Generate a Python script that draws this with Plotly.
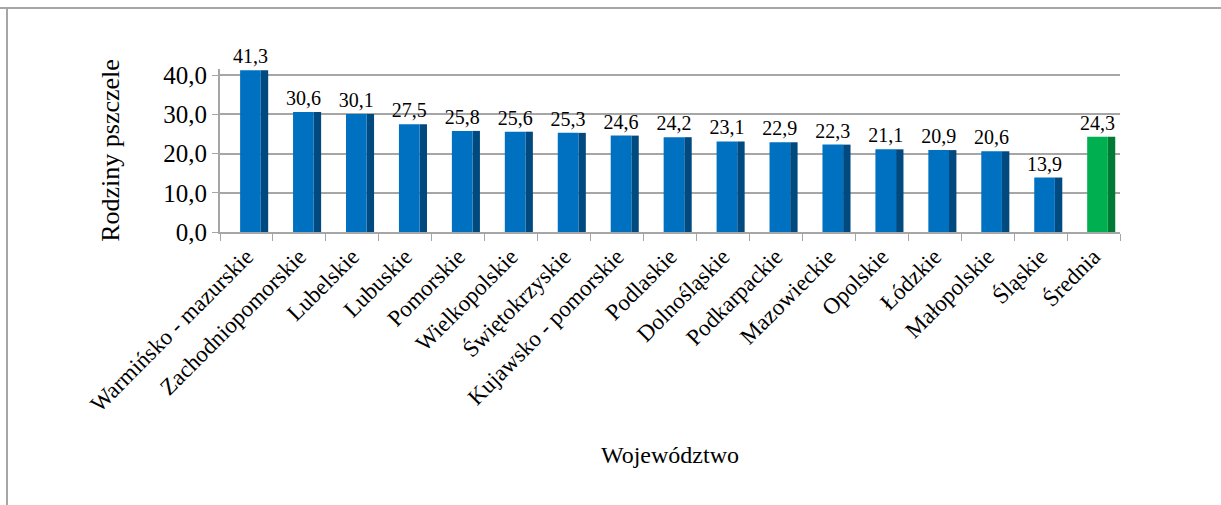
import plotly.graph_objects as go

categories = ["Warmińsko - mazurskie", "Zachodniopomorskie", "Lubelskie", "Lubuskie",
              "Pomorskie", "Wielkopolskie", "Świętokrzyskie", "Kujawsko - pomorskie",
              "Podlaskie", "Dolnośląskie", "Podkarpackie", "Mazowieckie", "Opolskie",
              "Łódzkie", "Małopolskie", "Śląskie", "Średnia"]
values = [41.3, 30.6, 30.1, 27.5, 25.8, 25.6, 25.3, 24.6, 24.2, 23.1, 22.9, 22.3,
          21.1, 20.9, 20.6, 13.9, 24.3]
y_ticks = [0, 10, 20, 30, 40]

front_colors = ["#0070C0"] * (len(categories) - 1) + ["#00B050"]
side_colors = ["#004A80"] * (len(categories) - 1) + ["#007A35"]

FONT = "Liberation Serif, Times New Roman, serif"

fig = go.Figure()
fig.add_trace(go.Bar(
    x=categories, y=values, marker=dict(color=side_colors, line=dict(width=0)),
    offset=0.27, width=0.14, hoverinfo="skip", showlegend=False))
fig.add_trace(go.Bar(
    x=categories, y=values, marker=dict(color=front_colors, line=dict(width=0)),
    offset=-0.12, width=0.39, showlegend=False,
    text=values, texttemplate="%{y:.1f}", textposition="outside",
    constraintext="none",
    textfont=dict(family=FONT, size=20, color="black"), cliponaxis=False))

fig.update_layout(
    width=1221, height=505,
    margin=dict(l=220, r=101, t=69, b=273),
    barmode="overlay",
    separators=", ",
    paper_bgcolor="white", plot_bgcolor="white",
    font=dict(family=FONT, color="black"),
    xaxis=dict(
        type="category", tickangle=-45, tickfont=dict(size=23),
        ticks="outside", tickson="boundaries", ticklen=7, tickcolor="#A6A6A6",
        showline=True, linecolor="#A6A6A6", linewidth=2, automargin=False,
        title=dict(text="Województwo", font=dict(size=24), standoff=30),
        range=[-0.5, len(categories) - 0.5]),
    yaxis=dict(
        range=[0, 41.6], tickvals=y_ticks, tickformat=".1f", automargin=False,
        tickfont=dict(size=25), ticks="outside", ticklen=6, tickcolor="#A6A6A6",
        showline=True, linecolor="#A6A6A6", linewidth=2,
        showgrid=True, gridcolor="#A6A6A6", gridwidth=2, zeroline=False,
        title=dict(text="Rodziny pszczele", font=dict(size=26), standoff=36)),
    shapes=[
        dict(type="line", xref="paper", yref="paper", x0=-220/900, x1=1 + 101/900,
             y0=1 + 61/163, y1=1 + 61/163, line=dict(color="#A6A6A6", width=2)),
        dict(type="line", xref="paper", yref="paper", x0=-213/900, x1=-213/900,
             y0=1 + 62/163, y1=-273/163, line=dict(color="#A6A6A6", width=2)),
    ],
)

fig.write_html("out.html", config={"displayModeBar": False},
               post_script="document.body.style.margin='0';")
